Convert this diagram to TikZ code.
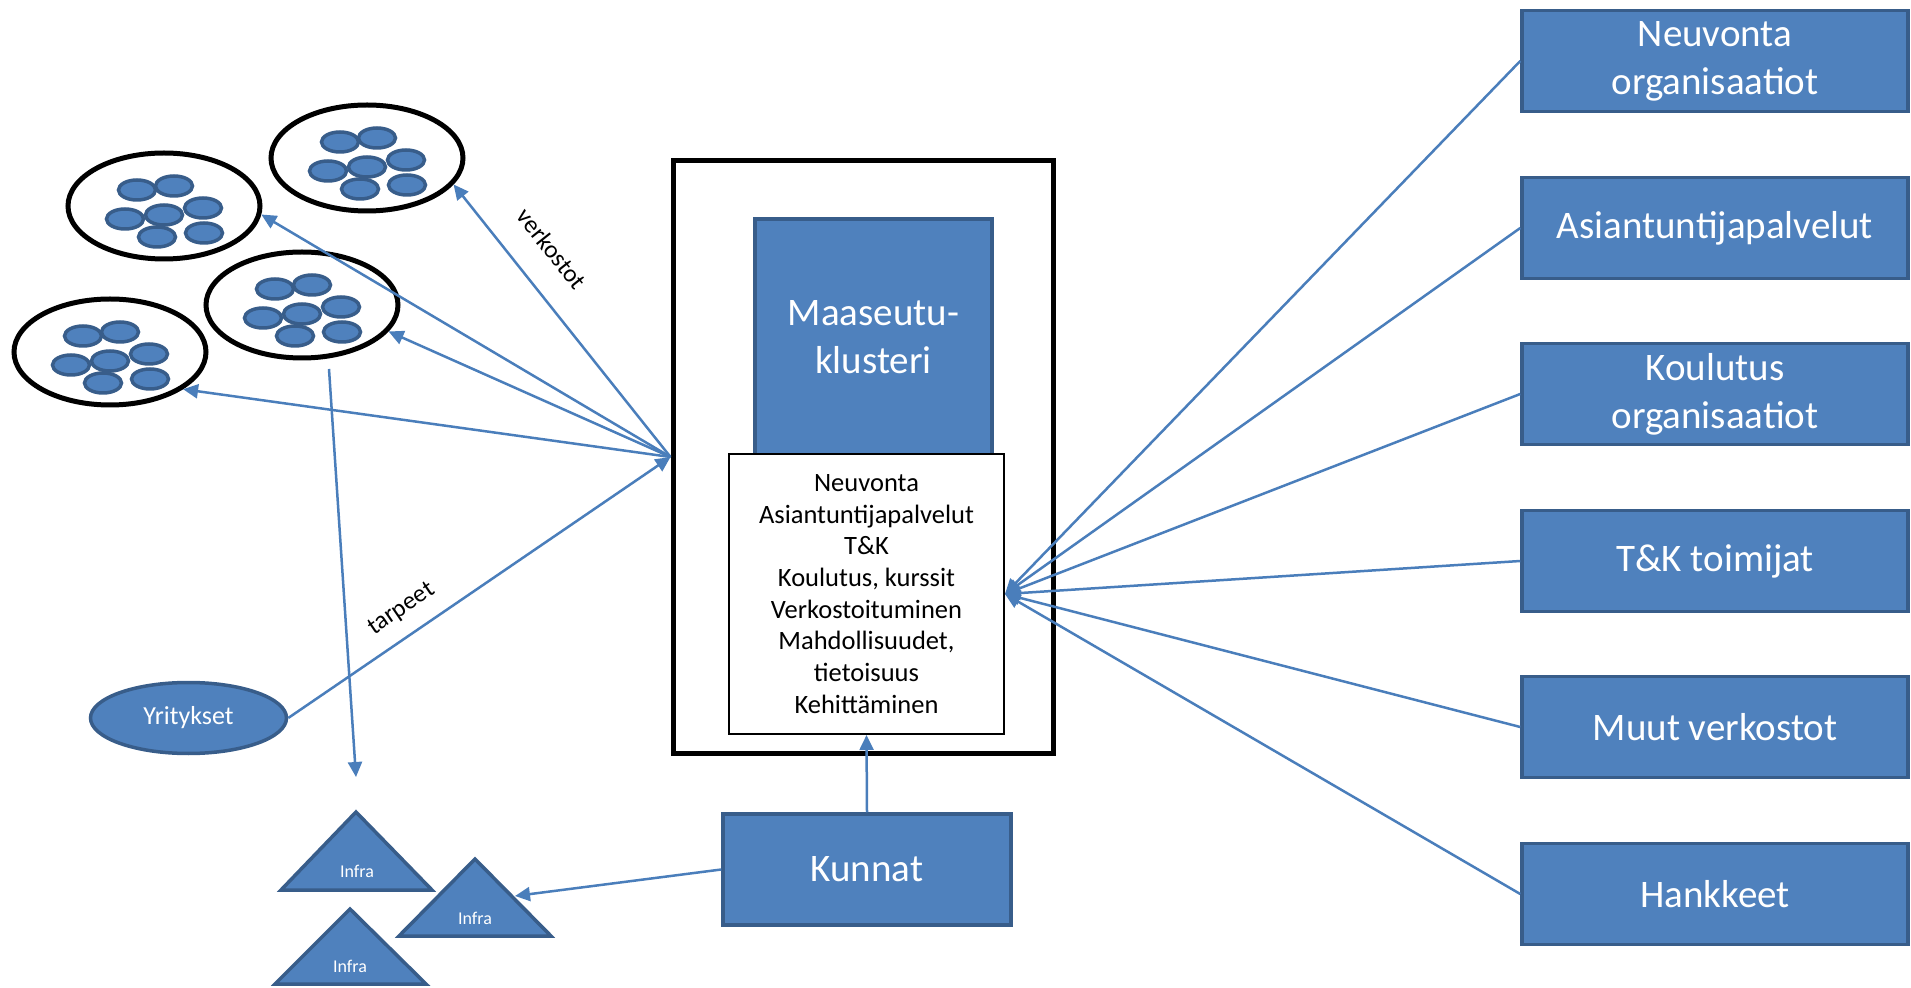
\documentclass[tikz,border=0pt]{standalone}
\usepackage{fontspec}
\setmainfont{Carlito}
\usetikzlibrary{arrows.meta,shapes.geometric}
\definecolor{boxfill}{HTML}{4F81BD}
\definecolor{boxedge}{HTML}{385D8A}
\definecolor{linkc}{HTML}{4A7EBB}
\begin{document}
\begin{tikzpicture}[x=0.5pt,y=-0.5pt,
  bluebox/.style={rectangle, fill=boxfill, draw=boxedge, line width=1.75pt,
    text=white, align=center, inner sep=0pt,
    font=\fontsize{19.5}{24}\selectfont},
  sidebox/.style={bluebox, minimum width=193pt, minimum height=50.5pt},
  cluster/.style={ellipse, draw=black, line width=2.5pt, fill=white,
    minimum width=96pt, minimum height=53pt, inner sep=0pt},
  blobshape/.style={fill=boxfill, draw=boxedge, line width=1.75pt},
  link/.style={draw=linkc, line width=1.25pt, -{Triangle[length=7.5pt,width=7pt]}},
  infratri/.style={fill=boxfill, draw=boxedge, line width=1.75pt, line join=miter},
  infratext/.style={text=white, font=\fontsize{9}{11}\selectfont, inner sep=0pt},
  edgelabel/.style={font=\fontsize{12.5}{15}\selectfont, text=black, sloped}
]
\useasboundingbox (0,0) rectangle (1911,988);
\fill[white] (0,0) rectangle (1911,988);

% company clusters: a ring holding seven small firms
\foreach \name/\cx/\cy in {c1/367/158, c2/164/206, c3/302/305, c4/110/352}{
  \node[cluster] (\name) at (\cx,\cy) {};
  \begin{scope}[shift={(\cx,\cy)}]
    \foreach \dx/\dy in {-27/-16, 10/-20, -39/13, 0/9, 39/2, -7/31, 40/27}
      \filldraw[blobshape] (\dx,\dy) ellipse [x radius=18.5, y radius=10];
  \end{scope}
}

% central cluster frame with its service list
\node[draw=black, line width=2.5pt, minimum width=190pt, minimum height=296pt,
  inner sep=0pt] (frame) at (863,457) {};
\node[bluebox, minimum width=118.5pt, minimum height=118pt] (core) at (873.5,337)
  {Maaseutu-\\klusteri};
\node[draw=black, fill=white, line width=1pt, minimum width=137.5pt,
  minimum height=140pt, inner sep=0pt, align=center,
  font=\fontsize{13.25}{15.85}\selectfont] (info) at (866.5,594)
  {Neuvonta\\Asiantuntijapalvelut\\T\&K\\Koulutus, kurssit\\Verkostoituminen\\Mahdollisuudet,\\tietoisuus\\Kehittäminen};

% municipalities
\node[bluebox, minimum width=144pt, minimum height=55.5pt] (kunnat) at (867,869.5) {Kunnat};

% companies
\node[ellipse, fill=boxfill, draw=boxedge, line width=1.75pt, text=white,
  minimum width=98pt, minimum height=35.5pt, inner sep=0pt,
  font=\fontsize{13}{15}\selectfont] (yrit) at (188.5,718) {Yritykset};

% infrastructure
\filldraw[infratri] (356,812) -- (432,890) -- (281,890) -- cycle;
\node[infratext] (infra1) at (357,871) {Infra};
\filldraw[infratri] (475,859) -- (551,936) -- (399,936) -- cycle;
\node[infratext] (infra2) at (475,918) {Infra};
\filldraw[infratri] (350,909) -- (426,984) -- (275,984) -- cycle;
\node[infratext] (infra3) at (350,966) {Infra};
\coordinate (infra2edge) at (515,896);

% actors on the right
\node[sidebox] (rb1) at (1715,61)  {Neuvonta\\organisaatiot};
\node[sidebox] (rb2) at (1715,228) {Asiantuntijapalvelut};
\node[sidebox] (rb3) at (1715,394) {Koulutus\\organisaatiot};
\node[sidebox] (rb4) at (1715,561) {T\&K toimijat};
\node[sidebox] (rb5) at (1715,727) {Muut verkostot};
\node[sidebox] (rb6) at (1715,894) {Hankkeet};

% connectors
\foreach \r in {rb1,rb2,rb3,rb4,rb5,rb6}
  \draw[link] (\r.west) -- (info.east);

\draw[link] (frame.west) -- node[edgelabel, pos=0.68, above=10pt] {verkostot} (c1.-17);
\draw[link] (frame.west) -- (c2.-5);
\draw[link] (frame.west) -- (c3.-17);
\draw[link] (frame.west) -- (c4.-27);
\draw[link] (yrit.east) -- node[edgelabel, pos=0.335, above=4pt] {tarpeet} (frame.west);

\coordinate (needtop) at (329,369);
\coordinate (needend) at (356,777);
\draw[link] (needtop) -- (needend);

\draw[link] (kunnat.north) -- (info.south);
\draw[link] (kunnat.west) -- (infra2edge);
\end{tikzpicture}
\end{document}
